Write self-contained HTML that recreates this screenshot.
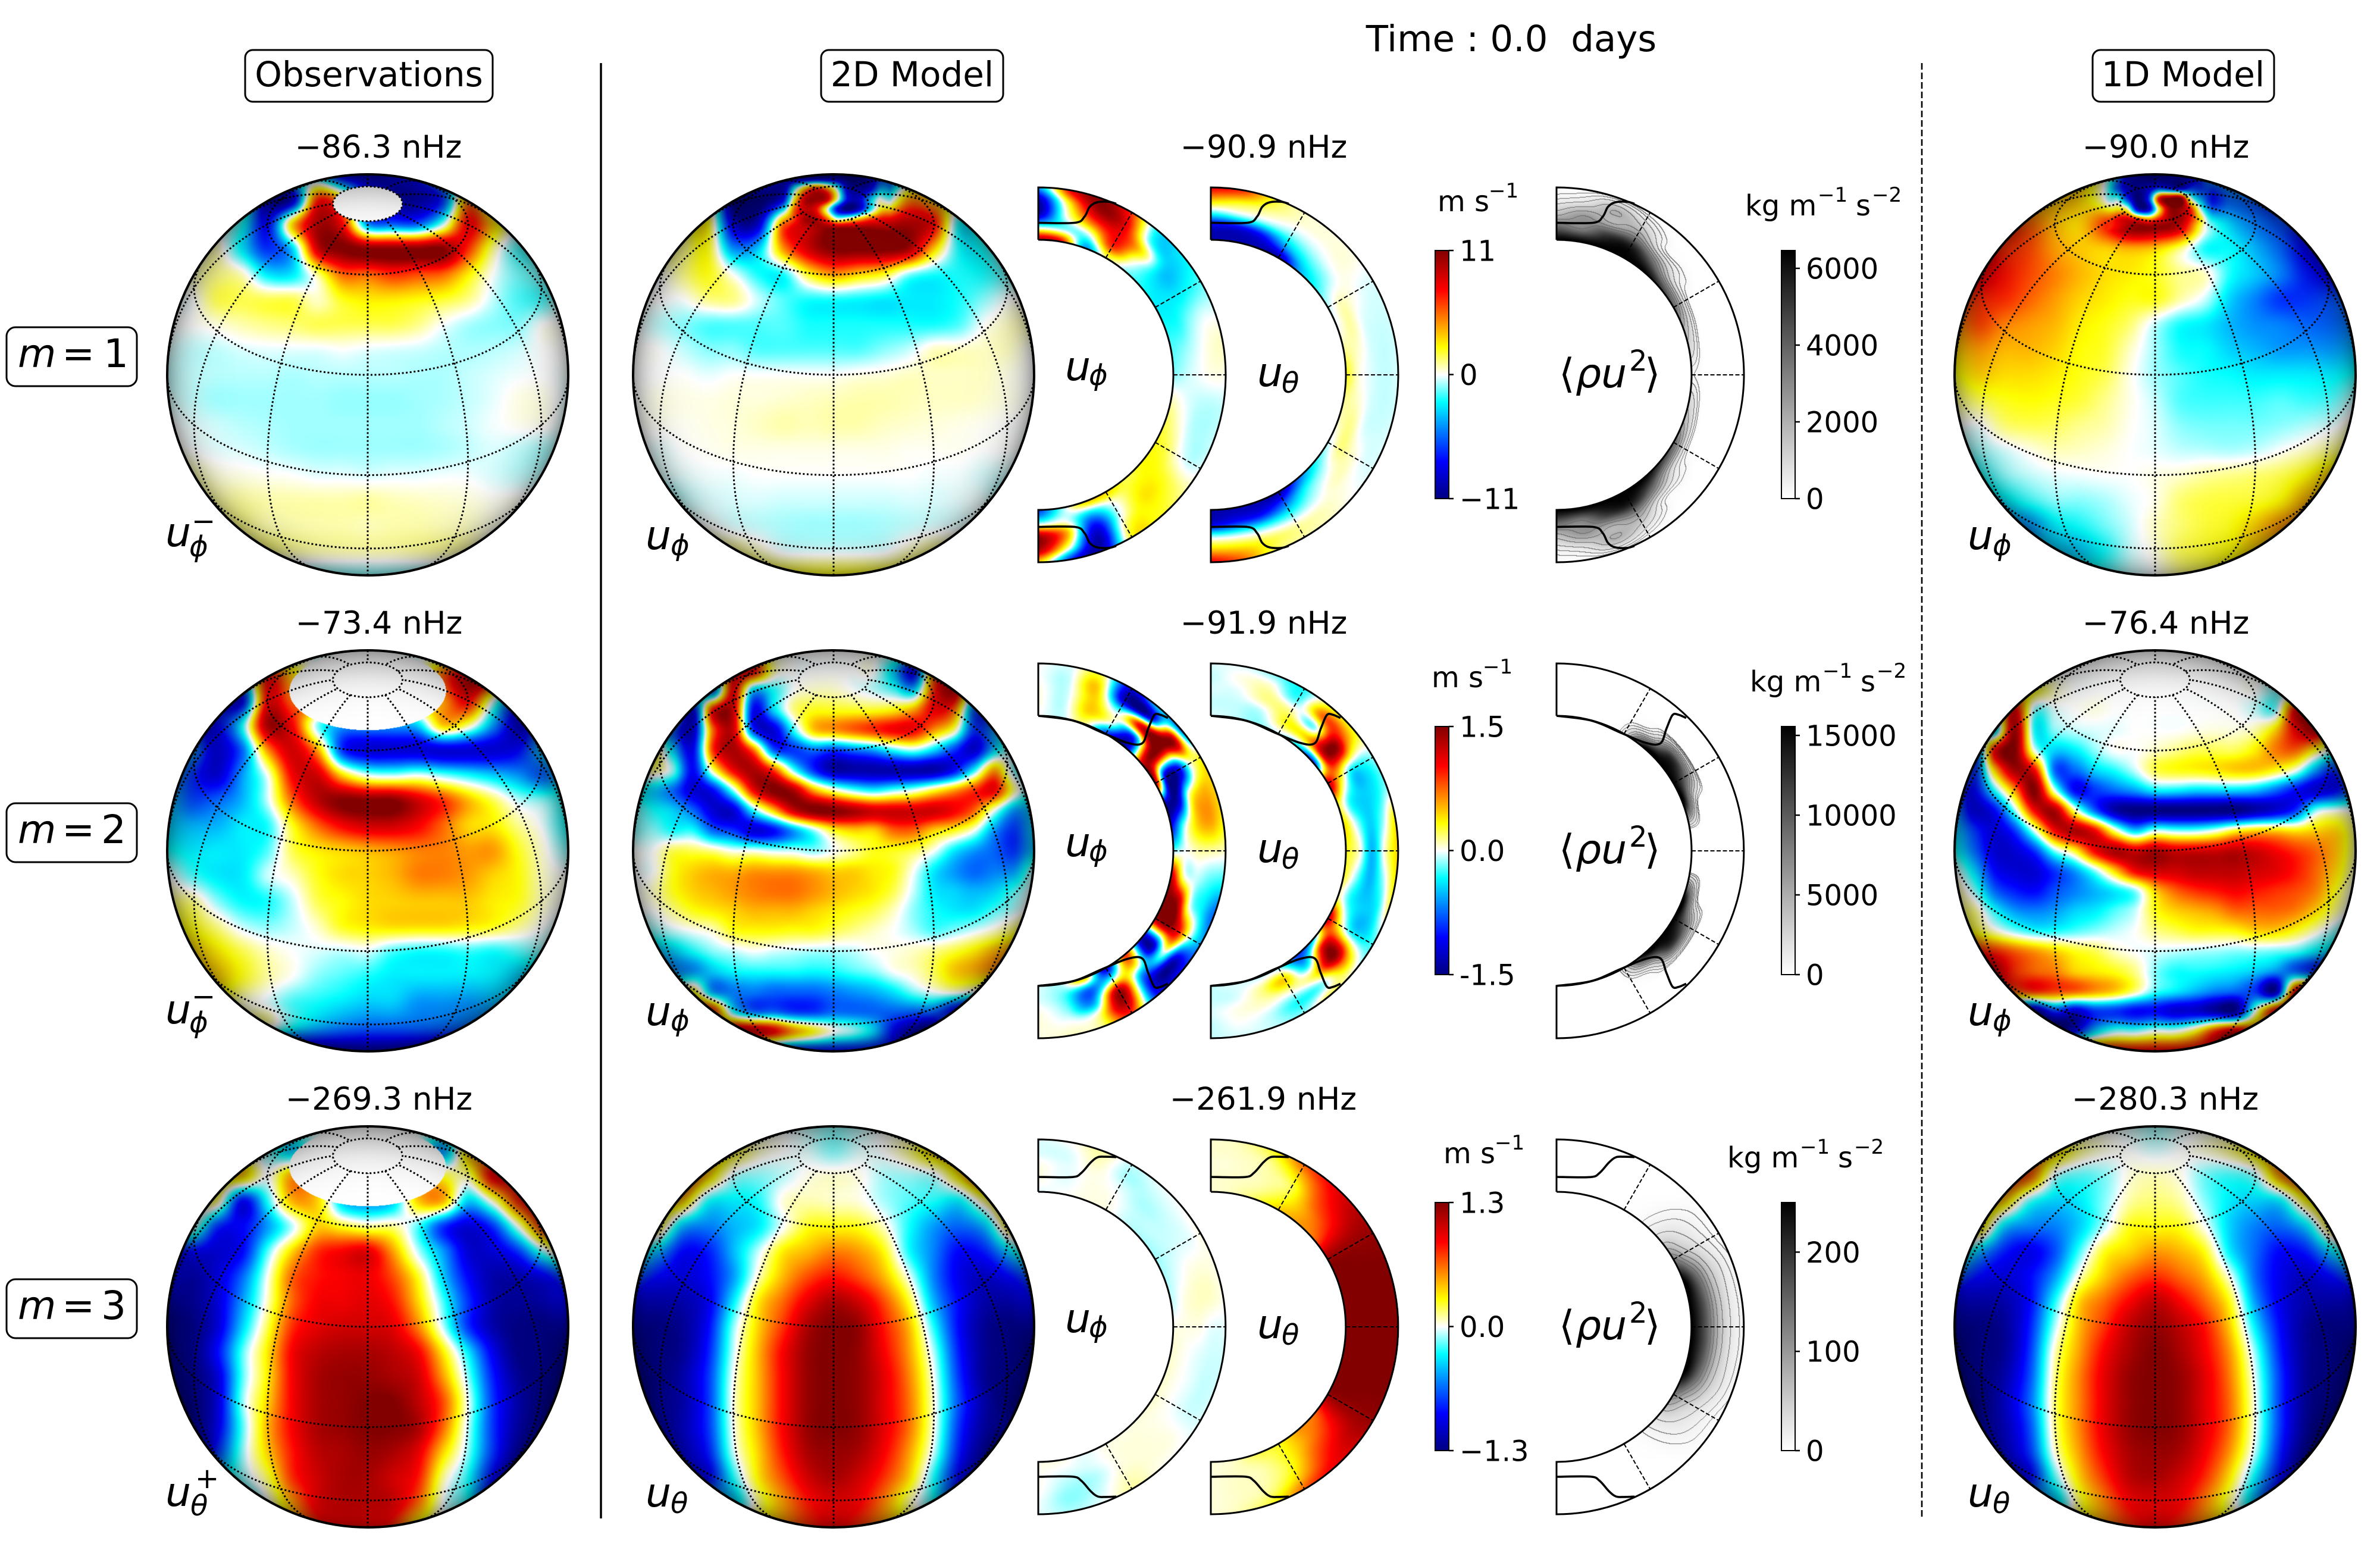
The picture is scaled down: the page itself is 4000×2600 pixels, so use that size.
<!DOCTYPE html>
<html lang="en">
<head>
<meta charset="utf-8">
<title>Inertial modes: observations, 2D model and 1D model</title>
<style>
html,body{margin:0;padding:0;background:#fff;width:4000px;height:2600px;overflow:hidden}
#stage{position:relative;width:4000px;height:2600px}
canvas{position:absolute;display:block}
svg{position:absolute;left:0;top:0}
text{font-family:"DejaVu Sans","Liberation Sans",sans-serif;fill:#000}
.head{font-size:58px;text-anchor:middle}
.freq{font-size:53px;text-anchor:middle}
.math{font-size:68px;font-style:italic}
.sub{font-size:48px;font-style:italic}
.sup{font-size:48px}
.unit{font-size:48px}
.unitsup{font-size:34px}
.tick{font-size:48px}
.box{fill:#fff;stroke:#000;stroke-width:3}
</style>
</head>
<body>
<div id="stage">
<svg id="overlay" width="4000" height="2600" viewBox="0 0 4000 2600" xmlns="http://www.w3.org/2000/svg">
<defs id="defs"></defs>
<g id="marks"></g>

<text x="2540" y="86" style="font-size:61px;text-anchor:middle">Time : 0.0&#160;&#160;days</text>

<rect class="box" x="412" y="84" width="416" height="87" rx="13"/>
<text class="head" x="620" y="145">Observations</text>
<rect class="box" x="1380" y="84" width="306" height="87" rx="13"/>
<text class="head" x="1533" y="145">2D Model</text>
<rect class="box" x="3517" y="84" width="305" height="87" rx="13"/>
<text class="head" x="3669" y="145">1D Model</text>

<line x1="1010" y1="106" x2="1010" y2="2552" stroke="#000" stroke-width="3.5"/>
<line x1="3230" y1="106" x2="3230" y2="2552" stroke="#000" stroke-width="2.6" stroke-dasharray="11 5"/>

<g><rect class="box" x="11" y="550" width="219" height="99" rx="15"/><text class="math" style="font-size:66px" x="30" y="617">m</text><text style="font-size:66px" x="104" y="617">=</text><text style="font-size:66px" x="174" y="617">1</text></g>
<g><rect class="box" x="11" y="1350" width="219" height="99" rx="15"/><text class="math" style="font-size:66px" x="30" y="1417">m</text><text style="font-size:66px" x="104" y="1417">=</text><text style="font-size:66px" x="170" y="1417">2</text></g>
<g><rect class="box" x="11" y="2150" width="219" height="99" rx="15"/><text class="math" style="font-size:66px" x="30" y="2217">m</text><text style="font-size:66px" x="104" y="2217">=</text><text style="font-size:66px" x="170" y="2217">3</text></g>

<text class="freq" x="636" y="265">−86.3 nHz</text>
<text class="freq" x="637" y="1065">−73.4 nHz</text>
<text class="freq" x="637" y="1865">−269.3 nHz</text>
<text class="freq" x="2124" y="265">−90.9 nHz</text>
<text class="freq" x="2124" y="1065">−91.9 nHz</text>
<text class="freq" x="2123" y="1865">−261.9 nHz</text>
<text class="freq" x="3640" y="265">−90.0 nHz</text>
<text class="freq" x="3640" y="1065">−76.4 nHz</text>
<text class="freq" x="3639" y="1865">−280.3 nHz</text>

<g><text class="math" x="278" y="918">u</text><text class="sub" x="318" y="935">ϕ</text><text class="sup" x="322" y="892">−</text></g>
<g><text class="math" x="278" y="1720">u</text><text class="sub" x="318" y="1735">ϕ</text><text class="sup" x="322" y="1691">−</text></g>
<g><text class="math" x="278" y="2531">u</text><text class="sub" x="320" y="2547">θ</text><text class="sup" x="328" y="2501">+</text></g>
<g><text class="math" x="1085" y="923">u</text><text class="sub" x="1127" y="933">ϕ</text></g>
<g><text class="math" x="1085" y="1723">u</text><text class="sub" x="1127" y="1732">ϕ</text></g>
<g><text class="math" x="1085" y="2532">u</text><text class="sub" x="1127" y="2543">θ</text></g>
<g><text class="math" x="3307" y="923">u</text><text class="sub" x="3349" y="933">ϕ</text></g>
<g><text class="math" x="3307" y="1723">u</text><text class="sub" x="3349" y="1732">ϕ</text></g>
<g><text class="math" x="3307" y="2532">u</text><text class="sub" x="3349" y="2543">θ</text></g>

<g><text class="math" x="1790" y="639">u</text><text class="sub" x="1830" y="647">ϕ</text></g>
<g><text class="math" x="2113" y="649">u</text><text class="sub" x="2154" y="660">θ</text></g>
<g><text class="math" style="font-style:normal" x="2620" y="651">⟨</text><text class="math" x="2648" y="651">ρu</text><text class="sup" x="2738" y="623">2</text><text class="math" style="font-style:normal" x="2764" y="651">⟩</text></g>
<g><text class="math" x="1790" y="1439">u</text><text class="sub" x="1830" y="1447">ϕ</text></g>
<g><text class="math" x="2113" y="1449">u</text><text class="sub" x="2154" y="1460">θ</text></g>
<g><text class="math" style="font-style:normal" x="2620" y="1451">⟨</text><text class="math" x="2648" y="1451">ρu</text><text class="sup" x="2738" y="1423">2</text><text class="math" style="font-style:normal" x="2764" y="1451">⟩</text></g>
<g><text class="math" x="1790" y="2239">u</text><text class="sub" x="1830" y="2247">ϕ</text></g>
<g><text class="math" x="2113" y="2249">u</text><text class="sub" x="2154" y="2260">θ</text></g>
<g><text class="math" style="font-style:normal" x="2620" y="2251">⟨</text><text class="math" x="2648" y="2251">ρu</text><text class="sup" x="2738" y="2223">2</text><text class="math" style="font-style:normal" x="2764" y="2251">⟩</text></g>

<g><text class="unit" x="2416" y="355">m s</text><text class="unitsup" x="2502" y="332">−1</text></g>
<g><text class="unit" x="2406" y="1155">m s</text><text class="unitsup" x="2492" y="1132">−1</text></g>
<g><text class="unit" x="2426" y="1955">m s</text><text class="unitsup" x="2512" y="1932">−1</text></g>
<g><text class="unit" x="2933" y="362">kg m</text><text class="unitsup" x="3055" y="339">−1</text><text class="unit" x="3119" y="362">s</text><text class="unitsup" x="3146" y="339">−2</text></g>
<g><text class="unit" x="2941" y="1162">kg m</text><text class="unitsup" x="3063" y="1139">−1</text><text class="unit" x="3127" y="1162">s</text><text class="unitsup" x="3154" y="1139">−2</text></g>
<g><text class="unit" x="2903" y="1962">kg m</text><text class="unitsup" x="3025" y="1939">−1</text><text class="unit" x="3089" y="1962">s</text><text class="unitsup" x="3116" y="1939">−2</text></g>
</svg>
</div>

<script>
/* ---------- categories and axis ticks ---------- */
const gridLatitudes = [80, 60, 30, 0, -30, -60, -80];
const gridLongitudes = [-180, -150, -120, -90, -60, -30, 0, 30, 60, 90, 120, 150];
const panelDashedLatitudes = [60, 30, 0, -30, -60];
const divergingStops = [-10, -7, -4.5, -2.2, 0, 2.2, 4.5, 6.8, 10];
const divergingRed = [0, 0, 0, 0, 255, 255, 255, 255, 130];
const divergingGreen = [0, 0, 128, 255, 255, 255, 128, 0, 0];
const divergingBlue = [130, 255, 255, 255, 255, 0, 0, 0, 0];
const rhoContourLevels = [0.25, 0.5, 1, 2, 3, 4, 5, 6, 7, 8, 9];
/* observations have no data above these latitudes */
const obsMaskLatitudes = [80, 67, 67];

const velocityLimits = [11, 1.5, 1.3];
const velocityTickValues = [[11, 0, -11], [1.5, 0, -1.5], [1.3, 0, -1.3]];
const velocityTickLabels = [["11", "0", "−11"], ["1.5", "0.0", "-1.5"], ["1.3", "0.0", "−1.3"]];
const stressLimits = [6465, 15560, 250];
const stressTickValues = [[6000, 4000, 2000, 0], [15000, 10000, 5000, 0], [200, 100, 0]];

/* latitude (deg) and radius (panel units, 227 = inner, 315 = outer) of the bold curve */
const curveLatM1 = [90, 76.4, 73.7, 73, 71.3, 67.9, 65.5];
const curveRadM1 = [255.6, 263, 277, 295, 306, 314, 316];
const curveLatM2 = [90, 75, 61.5, 50.7, 46, 48, 49.5, 48.2, 45.7];
const curveRadM2 = [227, 226.6, 226, 235, 251, 276, 300, 307, 312];
const curveLatM3 = [90, 77.3, 74.4, 72.3, 70.7, 68.4, 65.3];
const curveRadM3 = [252, 258, 268.5, 290, 302, 307.5, 314];

/* ---------- globe fields (rows top to bottom, columns left to right, scale -10..10) ---------- */
const globeObsM1 = [
[0,0,0,0,0,0,-3,-8,-9,-8,-6,-2,0,0,0,0,0],
[0,0,0,0,-8,-8,6,3,-6,-9,-9,-6,4,0,0,0,0],
[0,0,0,-2,-7,3,9,7,-4,-5,-5,-.5,7,3,0,0,0],
[0,0,.5,-2.5,-6,-3,8,10,10,10,10,10,6,1,-1.5,-1,0],
[0,.5,1,.5,-2.5,-2.5,1,5,5,6,5.5,5,2.5,0,-1.2,-1,-.5],
[0,0,1.5,1.5,1.5,1.5,.5,2,2.5,2.5,2.2,1.8,1,-.5,-1.5,-1.5,0],
[0,0,.3,.7,1,1.2,1.5,1.5,1.5,1.5,1,0,-.7,-1,-1,0,0],
[-.3,-.5,-.5,-.3,-.2,-.2,-.2,0,-.2,-.3,-.4,-.6,-.7,-.6,-.4,0,0],
[-.5,-.5,-.6,-.6,-.6,-.7,-.6,-.6,-.6,-.6,-.7,-.7,-.5,-.3,-.1,0,-.1],
[-.3,-.5,-.8,-.8,-.8,-.8,-.8,-.9,-.9,-.9,-.8,-.7,-.5,-.2,.2,.2,-.2],
[0,-.2,-.4,-.6,-.7,-.8,-.8,-.8,-.8,-.8,-.8,-.6,-.4,-.1,.1,.1,-.3],
[.3,0,-.2,-.3,-.5,-.7,-.8,-.8,-.8,-.8,-.8,-.7,-.5,-.3,-.5,-.7,-.5],
[1,.7,.3,.2,.1,0,-.2,-.2,-.3,-.2,-.2,-.1,-.1,-.3,-.5,-.5,0],
[1,1,.8,.8,.7,.7,.7,.7,.8,.6,.5,.4,.3,.1,.1,0,0],
[1,1,1,1,.7,.7,.7,.7,.6,.7,.7,.6,.5,.2,0,0,0],
[1,1,1,1,1,.8,.7,.7,.7,.7,.8,.8,.6,0,0,0,0],
[0,0,0,0,-1,-1,-1,-1,-1,-1,-1,-1,-1,0,0,0,0]];

const globeObsM2 = [
[0,0,0,0,0,0,0,0,0,0,0,0,0,0,0,0,0],
[0,0,0,-2,6,3,0,0,0,0,0,5,8,7,0,0,0],
[0,0,-5,-7,7,5,5,0,0,0,3,4,7,0,-6,-5,0],
[0,-5,-7,-2,9,7,-1,-4,-4,-4,-3,3,1,-4,-8,-4,0],
[-2,-4,-8,-5,4,8,4,-6,-8,-8,-8,-8,-8,-8,-7,-3,0],
[-3,-6,-8,-4,0,7,8,3,0,-.5,0,-1,-2,-3,-4,-5,-2],
[-3,-5.5,-5,-3.5,-.5,5,8.5,10,10,10,8,6,3.5,1.5,-.5,-1,-2],
[-3,-3.5,-3.5,-2.5,-2,2,5,7,8,8,7,5,3,2.5,1,-.2,-2],
[-2,-2.5,-2.5,-2.5,-1.5,1.5,2.5,3,3.5,4,4.5,4.5,4,4,2,.3,-1],
[0,-1.5,-2.5,-2.5,-.5,.5,2,2.8,3,3.5,4.5,4.5,4,3,2.2,.5,0],
[1,1,-1,-2.2,-2,-.5,1.5,2.2,2.8,3,3.2,3.2,3.2,2.5,2,.5,0],
[2,2,1,-.5,-1,-.5,.5,2,2.5,2.8,2.8,2.8,2.5,2,1,0,-.5],
[3,3,2.5,1.5,.5,0,-.3,-.5,-.3,-1.5,-2,-2,-1.7,-2,-1.5,-1,-1],
[3,3,3,2,.8,0,-1,-1.5,-2,-2.5,-2.5,-2.5,-2.5,-2.5,-3,-3,-3],
[2,2,2,.5,-.2,-1.5,-2,-2.5,-3,-3,-4,-4,-4,-3.5,-3,-3,-3],
[0,0,0,0,.3,-2,-3.5,-4.5,-5,-5,-5,-5,-5,-5,-5,-5,-5],
[-9,-9,-9,-9,-9,-9,-9,-9,-9,-9,-9,-9,-9,-9,-9,-9,-9]];

const globeObsM3 = [
[0,0,0,0,0,0,0,0,0,0,0,0,0,0,0,0,0],
[0,0,0,0,-1,-3,0,0,0,0,0,-4,3,3,0,0,0],
[0,0,2,3,0,4,3,0,0,0,3,2,1,7,5,0,0],
[0,1,1,-7,-2,3.5,3,-3,-4,-3,3,3.5,-3,.5,6,6,0],
[0,0,-6,-7,-4,-.5,3,2,1,1,-1.5,-6,-8,-6,0,6,6],
[-6,-7,-8,-7,-1.5,3,6,7,7.5,4,-.5,-4,-8,-8,-6,-1,2],
[-7,-9,-8,-5,0,5,6.5,7,7.2,5.5,2,-3,-7,-9,-9,-7.5,-5],
[-9,-9.5,-8,-4,.5,5,7,7.2,7.5,6.5,3,-1.5,-6,-9,-9.5,-9,-7],
[-10,-10,-8,-3,1.5,6,7.5,8,8,7.5,4.5,-.5,-6,-9,-10,-10,-9],
[-10,-10,-7,-1.5,2.5,7,8.5,9,9,8.5,7,2.5,-2.5,-7.5,-10,-10,-10],
[-10,-10,-8,-1.5,2.5,7,9,9.5,9.5,9,8,4,-1,-6.5,-9.5,-10,-10],
[-10,-10,-8,-1,3,7,9,9.5,10,10,8.5,5.5,0,-6,-9,-10,-10],
[-9,-9.5,-7.5,-1.5,3.5,7,9,9.5,10,10,9,5,-.5,-6,-9,-9.5,-9],
[-8,-9,-6,-1,3,6.5,8.5,9,9.5,9,7.5,3,-1,-6,-9,-9,-8],
[-5,-5,-3,-1,1.5,6,8,9,9,8,6.5,1,-2,-7,-9,-9,-8],
[-2,-2,-2,-2,0,4,7.5,8.5,8.5,8,5,0,-2,-7,-9,-9,-8],
[0,0,0,0,0,3,6,7,7,6,2,0,0,0,0,0,0]];

const globe2dM1 = [
[0,0,0,0,0,-3,-8,-10,-10,-10,-8,-2,1,1,0,0,0],
[0,0,0,1,-9,-10,-7,8,1,-9,-3,4,3,1,0,0,0],
[0,0,1,2,-8,-8,5,8,9.5,9,8.5,9,7,-2,-1,0,0],
[0,1,1,2,-4,-3,4,8,10,10,10,9,3,-2,-2,0,0],
[0,0,1,2,0,-2,-2,2,4,3,2,-1,-2,-2,-2,-1,0],
[0,0,0,1,1,-.5,-1.5,-2,-2,-2.2,-2.5,-2.5,-2.5,-2,-1,0,0],
[0,-.5,-1,-1.5,-1.5,-1.5,-1.5,-2,-2,-2,-2,-2,-2,-1.5,0,.5,.5],
[0,0,-.5,-1,-1,-1.5,-1.5,-1.5,-1.5,-1.5,-1,-.5,.5,.5,.5,.5,0],
[0,0,0,-.2,0,0,0,0,0,.2,.3,.5,.5,.5,.5,.2,0],
[0,.2,.2,.2,.3,.3,.4,.5,.6,.7,.7,.6,.5,.5,.4,.2,0],
[0,.1,.1,.2,.3,.5,.7,.6,.7,.7,.5,.4,.3,.2,.1,0,0],
[0,-.2,0,.1,.2,.2,.2,.2,.2,.2,.2,.1,.1,.1,0,0,-.2],
[-.3,-.3,-.2,-.1,-.1,0,0,0,0,0,0,0,-.1,-.1,-.3,-.4,-.4],
[-1,-1,-.5,-.3,-.3,-.3,-.4,-.4,-.4,-.4,-.4,-.3,-.3,-.2,-.2,-1,-1],
[0,0,0,0,-.3,-.5,-.7,-.8,-.8,-.8,-.7,-.5,-.3,-.2,0,0,0],
[1,1,1,1,1,.5,-.2,-.3,-.3,-.3,-.2,.5,1,1,1,1,1],
[2,2,2,2,2,2,2,2,2,2,2,2,2,2,2,2,2]];

/* finer polar detail of the m=1 model swirls */
const swirl2dM1 = [
[-9,-9.5,-9.5,-9.5,-9.5,-9.5,-10,-10,-9,-6,-2],
[-6,-2,3,6,4,-1,-8,-9,-8,-4,0],
[-4,2,8,9,8,1,-7,-8,-4,0,2],
[0,5,8,7,1,-7,-10,-8,-3,2,5],
[3,6,9,9,6,1,2,4,6,7,8],
[5,8,9,10,10,9,9,9,9,9,9]];
const swirl1dM1 = [
[0,-4,-8,-9,-9.5,-9.5,-9,-9,-8,-6,-5],
[-1,-5,-8,-9,-8,-6,-7,-8,-6,-6,-5],
[.5,-1,-6,-10,-6,7,10,10,0,-4,-5],
[3,2.5,1,-8,-8,2,9,9,6,-1,-3],
[5,7,8,7,5,7,9,9,6,2,-2],
[4,5,8,10,10,10,9,7,4,.5,-2]];

const globe2dM2 = [
[0,0,0,0,0,0,0,0,0,0,0,0,0,0,0,0,0,0,0,0,0],
[0,0,0,0,0,6,7,1,0,0,0,0,0,-3,-7,4,5,0,0,0,0],
[0,0,0,0,-5,7,-3,-2,0,.5,.5,0,-.5,-1.5,-3,6,8,0,0,0,0],
[0,0,0,-7,7,8,-7,-3,1,2,2,2,2,2.5,4,7,5,-5,-5,0,0],
[0,0,-5,-8,5,8,-6,-8,-2,3,4,5,6,7,7,4,1,-6,-4,0,0],
[0,2,-3,-7,6,9,5,-5,-6,-5,-6,-5,-4,-2,-1,-3,-6,-8,-3,0,0],
[0,1,-1,-7,1,7,9,6,-1,-6,-9,-9,-9,-9,-9,-9,-7,-2,4,-1,0],
[-2,-3,-5,-8,-7,-1,7,10,9,4,1,-1,-2,-1,0,2,4,6,7,1,-2],
[-1,-2,-3,-5,-8,-8,-2,3,8,10,10,9,8,8,8,8,7,5,0,-4,-3],
[-1,-1,-2,-2,-5,-6,-8,-7,-4,-1,2,3,3,5,5,3,2,0,-4,-6,-3],
[0,0,1.5,1.5,1,0,0,-.5,-.5,-1,0,1,2,2,1.5,0,-2.5,-4,-5,-6,-3],
[0,0,2,3,3.5,3.5,4,4,4,3.5,3,3,2.5,2,0,-2.5,-4,-5,-4.5,-4,-.5],
[0,.5,2,3,3.5,4,4.5,4.8,4.8,4.2,3.5,3,2.5,1.5,-.5,-2.5,-3,-3.5,-3,-1.5,0],
[0,0,1,2,2.5,3,3.5,3.5,3.5,3,2.5,2,1.5,.5,-1,-2,-2.5,-2.5,-1.5,-.5,.5],
[-1,-1,-.5,0,.5,2,2.2,2.2,2,2,1.5,1,.5,0,-.7,-1.5,-1,-.3,.5,1.5,2.5],
[-2,-3,-3,-2,-1,-.5,0,-.3,-.5,-.7,-.7,-.5,0,.2,.5,1,1.7,2.5,3.5,4,4],
[-3,-3,-4,-4,-3,-2.2,-2,-2,-2,-2.2,-2,-1.5,-1,0,.5,1.5,3,3.5,4,4,4],
[0,0,0,2,-4,-4.5,-4.5,-5,-5,-5,-4.5,-4,-3.5,-2.5,-1,0,.5,0,0,0,0],
[0,0,0,5,6,-2,-5,-5,-6,-6,-5,-5,-5,-5,-5,-5,-7,-8,0,0,0],
[0,0,0,0,0,7,8,7,4,2,0,-1,-3,-7,-9,-9,0,0,0,0,0],
[-7,-7,-7,-7,-7,-7,-7,-7,-7,-7,-7,-7,-7,-7,-7,-7,-7,-7,-7,-7,-7]];

const globe2dM3 = [
[0,0,0,0,0,0,0,-.5,-1,-.5,0,0,0,0,0,0,0],
[0,0,0,3,2,.5,0,-.3,-1,-.3,0,1,3,3,0,0,0],
[0,0,5,3,-.5,-1,-.5,.2,.4,.2,-.7,-.8,-.5,2.5,5,0,0],
[0,3,3,-2,-2.5,-2,.3,.7,.5,.3,-.7,-1.5,-2,-2.5,1,3,0],
[2,2,-3.5,-4.5,-3.5,-2.5,0,2,2.2,2,.5,-2,-4,-5,-3.5,2,2],
[-1,-3.5,-7,-6.5,-3.5,-.5,2.5,3.5,4.5,4,2.2,-2,-4.5,-7,-6.5,-3,0],
[-5,-7,-8,-7,-4,.5,3.5,5.5,6.5,5.5,3.5,0,-4.5,-7.5,-8.5,-7,-5],
[-8,-9,-9,-7.5,-2.5,2.5,5,7.5,9,8,5.5,2,-3.5,-7,-9,-9,-7],
[-9.5,-10,-9.5,-7,-1,3,6,9,10,9.5,6.5,3.5,-2,-7,-9.5,-10,-9],
[-10,-10,-9.5,-6.5,-.5,3.5,7,9.5,10,9.5,7,4,-.7,-6.5,-9.5,-10,-10],
[-10,-10,-9,-6,0,3.5,7,9.5,10,9.5,7.5,4.5,0,-6,-9.5,-10,-10],
[-10,-9.5,-9,-6,.2,3.5,7,9.5,10,9.5,7.5,4.8,.3,-5.5,-9,-10,-10],
[-9,-9,-8.5,-6,0,3.5,7,9.5,10,9.5,7.5,4.8,.2,-6,-9,-9,-9],
[-8,-8,-8,-6.5,-.5,3,6.5,9,9.5,9,7,4,-.5,-6.5,-9,-9,-8],
[-6,-6,-6,-7,-2,2.5,5.5,8,9,8,6,3,-2,-7,-8,-7,-6],
[-3,-3,-3,-3,-3,1,4,6.5,7.5,7,4.5,1,-2,-6,-6,-5,-3],
[0,0,0,0,0,2,4,6,7,6,4,2,0,0,0,0,0]];

const globe1dM1 = [
[0,0,0,0,0,3,0,-8,-10,-9,-4,-3,0,0,0,0,0],
[0,0,0,2.5,3,3,0,-9,2,9,-6,-5,-5,-5,0,0,0],
[0,0,5,5,3.5,3,6,9,10,9,0,-3,-4.5,-5.5,-5.5,0,0],
[0,6,6,5.5,4,3.2,3,3.5,3,1,-2,-2.2,-3.5,-5,-7,-6,0],
[5,7,6.5,5.5,4.5,3.5,2.8,2.5,2,1,.5,-2,-3.2,-4.5,-6.5,-7,-6],
[5,6,6,5,4,3,2.5,2,2,.7,-.5,-3,-4.5,-6,-6,-5.5,-5],
[4,5.5,4.5,4,3.5,2.5,2,1.2,-.5,-2,-2.5,-3.5,-4.2,-4.5,-5,-5,-4.5],
[3,4,3.5,3.5,3,2.2,1.8,.5,-.8,-2,-2.2,-3,-3.5,-4,-4,-4,-3.5],
[2,3,2.8,2.8,2.5,2,1.5,.2,-.8,-1.5,-2,-2.2,-2.5,-2.5,-2.5,-2.5,-2],
[1,1.5,2,2.2,2,1.7,1,.2,-.5,-1.5,-1.7,-1.7,-1.7,-1.5,-1.7,-1.5,-.5],
[0,0,1.2,1.5,1.4,1,.7,.1,-.3,-1,-1.2,-1.2,-1.2,-1,-.7,-.3,.5],
[-1,-.8,-.3,.2,.6,.5,.3,0,-.2,-.5,-.6,-.7,-.5,0,.5,1,1.5],
[-3,-2,-1,-.5,-.2,-.1,0,0,.2,.4,.8,1,1.2,1.5,2.2,3,3],
[-3,-3,-2.5,-1.7,-1,-1,-.7,-.2,.2,1.2,1.6,1.7,1.8,2.3,3.5,3,3],
[-4,-4,-4,-4,-2.5,-2,-1.2,-.4,.5,1.2,1.7,2,3,4,4,4,4],
[-3,-3,-3,-3,-3,-3,-2,-.5,.3,1.4,1.8,2.2,3,3,3,3,3],
[-2,-2,-2,-2,-2,-2,-1.5,-.5,0,1,1.5,2,2,2,2,2,2]];

const globe1dM2 = [
[0,0,0,0,0,0,0,0,0,0,0,0,0,0,0,0,0,0,0,0,0],
[0,0,0,0,0,0,0,0,0,0,0,0,0,0,0,0,0,0,0,0,0],
[0,0,0,3,2,.5,0,0,0,0,0,0,0,0,0,0,-1,-1,0,0,0],
[0,0,0,7,-1,-.3,0,.2,0,0,0,0,0,0,0,-.5,-1,7,7,7,0],
[0,0,-3,9,-2,-1,-.5,-.3,-.2,0,0,0,.2,.3,.3,.8,3,7,8,2,0],
[0,-6,7,10,0,-3,-2.5,-1,0,0,.5,1,1.5,1.5,1.5,2.5,4.5,5,2,-1,0],
[0,-6,3,9,7,-5,-5,-3,-2,-.5,1.5,2,2.2,2.5,3,3,2,0,-4,-6,0],
[-5,-7,-2,4,10,0,-7,-6,-5,-4,-2.5,-2.5,-3,-3,-3,-3.5,-5,-7,-8,-7,-4],
[-4,-8,-7,-1,7,9,1,-5,-9,-10,-10,-10,-10,-10,-10,-9,-8,-6,-1,0,0],
[-3,-6,-8,-6,0,7,9,7,1,-3,-.5,-1,-1,0,2,3,3,2.5,3,3,1],
[-2,-5,-8,-8,-6,-1,2,7,9,8,9,8,8,8,8.5,8,7,6,5,3.5,1],
[0,-3,-7,-8,-8,-6,-4,-1,3,7,8,8,8.5,8.5,8.5,8,7.5,6.5,5,3,.5],
[1,-1,-5,-6.5,-7,-5.5,-4.5,-3.5,-2.5,-1,3,5,6,6.5,7,6.5,6,5.5,4.5,2,0],
[1,1,-2,-4,-4.5,-4,-3,-2.5,-1.5,-.5,2,3,3.5,4,5,5,5,4.5,3,1,-.5],
[2,2,.5,-1,-2,-2,-1.5,-1,-.5,0,1,1.5,2,2,2.2,3,3,2,.5,-1,-2],
[5,6,6,5,4,3,2,1.5,.5,0,-.3,-.5,-.7,-.8,-1,-1,-1.2,-1.5,-2.5,-3,-3],
[7,8,8,6,5,4.5,3,2.5,2,1,-1,-2,-2,-2.2,-2.5,-3,-4,-5,-6,-6,-6],
[5,5,5,5,6,5.5,5,4,3,1,-1.5,-2.5,-3.5,-4.5,-5,-6,-9,7,7,7,5],
[0,0,0,-6,-9,-6,-8,-6,-6,-7,-7,-8,-8,-9,-9.5,0,7,7,0,0,0],
[0,0,0,0,-6,-9,-7,-3,-1,-1,0,0,2,6,8,5,0,0,0,0,0],
[7,7,7,7,7,7,7,7,7,7,7,7,7,7,7,7,7,7,7,7,7]];

const globe1dM3 = [
[0,0,0,0,0,0,0,-.3,-.8,-.3,0,0,0,0,0,0,0],
[0,0,0,4,3,1,.2,0,-.3,0,.3,1,2.5,4,0,0,0],
[0,0,5,5,-.5,-1.5,-1,.3,.6,.2,-1.2,-1.7,-.8,4,5,0,0],
[0,3,3,-1.5,-3,-2.5,-1,.8,1.2,.8,-1,-2.5,-3,-2.5,2,3,0],
[3,3,-3,-4.5,-4.5,-3,-.5,2,2.2,2,0,-3,-4.5,-5,-3,2,2],
[0,-3.5,-6.5,-7.5,-5.5,-1.5,2,3,4,3.5,2,-2.5,-5,-7,-6.5,-3,0],
[-5,-7,-8,-7,-4,.5,3.2,5,6,5,3.5,0,-5,-7.5,-8.5,-7,-5],
[-8,-9,-9,-7,-2,3,5,7,8.5,7,5,2,-4,-7.5,-9,-9,-8],
[-9.5,-10,-9.5,-6.5,-.7,3.5,6,8.5,9.5,8.5,6.5,3,-2.5,-7,-9.5,-10,-9],
[-10,-10,-9.5,-6,.5,4,7,9,10,9,7,4,-1,-6.5,-9.5,-10,-10],
[-10,-10,-9,-5.5,1,4.5,7.5,9.5,10,9.5,7.5,4.5,-.3,-6,-9.5,-10,-10],
[-10,-10,-8.5,-5,1.2,4.5,7.5,9.5,10,9.5,7.5,4.8,0,-6,-9.5,-10,-10],
[-9,-9,-8.5,-5.5,1,4.5,7.5,9.5,10,9.5,7.5,4.8,0,-6,-9.5,-10,-9],
[-8,-8,-8,-6,.3,4,7,9,9.5,9,7,4,-.7,-6.5,-9.5,-9.5,-8],
[-7,-7,-7,-7,-1.5,3,6,8.5,9,8,6,2.5,-2.5,-7,-9,-8,-7],
[-3,-3,-3,-3,-3,1.5,4.5,7,7.5,7,4.5,1,-3.5,-7,-7,-5,-3],
[0,0,0,0,0,2,4,6,7,6,4,2,0,0,0,0,0]];

/* ---------- meridional panel fields (rows 90N to 90S every 10 deg, columns inner to outer radius) ---------- */
const panelUphiM1 = [
[9,-1,-9,-9,-4],[7,-1,0,2,7],[-4,-.5,5,9,10],[1,6,7,7.5,6],[-1,.5,2.5,-1.5,-2.5],
[-2,-2.5,-3,-3,-2.5],[-2.5,-2.5,-2.5,-2,-1.5],[-2,-2,-1,-.3,-.2],[-1.5,-1,-.3,.3,.5],[-1,-.5,-.1,.2,.2],
[.5,-.1,-.5,-.6,-.5],[1.5,.5,-.5,-.7,-.5],[2,1.5,.2,-.5,-.3],[2.2,2.2,2,1.5,1],[1.5,2,2.5,2.2,2],
[3,0,-.5,1,2],[3,-3,-7,-9,-9],[-1,0,4,1,-6],[-6,-1,9,9,3]];
const panelUthetaM1 = [
[-9,-8,-2,3,7],[-9,-8,-1,2,6],[-9,-7,-1,1,2],[-9,-4,-1,.3,.5],[-4,-2,-.5,.2,.3],
[-2,-1,0,.3,.2],[-.5,.5,.2,-.2,-.3],[0,.8,-.2,-.4,-.4],[1,.5,-.3,-.5,-.4],[2,.3,-.3,-.5,-.3],
[1,.5,-.3,-.5,-.4],[.5,1,-.2,-.4,-.3],[-.5,1,.5,-.2,-.3],[-2,-.5,.5,.2,0],[-5,-2,-.5,.5,.5],
[-9,-5,-1.5,.8,.8],[-9,-7,-1.5,1.5,1.5],[-9,-7,-1,2.5,5],[-9,-8,-1,3,7]];
const panelRhoM1 = [
[10,6,2.5,.6,.1],[10,5,4,1.2,.1],[10,8,3,3,.2],[10,9,4,1.5,0],[10,6,1,.2,0],
[8,2,.4,0,0],[6,.8,0,0,0],[3,.3,0,0,0],[1.5,0,0,0,0],[.3,0,0,0,0],
[1.5,0,0,0,0],[3,.3,0,0,0],[6,.8,0,0,0],[8,2,.4,0,0],[10,6,1,.2,0],
[10,9,4,1.5,0],[10,8,3,3,.2],[10,5,4,1.2,.1],[10,6,2.5,.6,.1]];

const panelUphiM2 = [
[0,.2,.2,0,0],[-.5,-.5,-.5,-.5,-.3],[1,3,3,3,1.5],[-6,0,-1,-9,-8],[-9,-6,8,-8,-3],
[8,10,10,9,-5],[9,-9,-8,0,2],[-9,-9,1,3.5,3],[-7,-1,3,4,2.5],[-1,0,.8,.8,.5],
[8,.5,-.5,-1.5,-2],[10,9,0,-2.5,-5],[9,10,7,-.5,-4],[-9,-9,-1,-9,-7],[6,3,-4,-7,-7],
[-8,-1,9,9,6],[3,-5,-4,.5,1],[-.5,-1.5,-1,0,.5],[-.3,-.3,.2,.3,.2]];
const panelUthetaM2 = [
[-.3,-.5,-.3,-.5,-.3],[-.5,-.5,-.2,.2,-.2],[-1,-.5,1,.5,-1],[-.5,2,.8,-1.5,-2],[-3,3,-1,5,2],
[-6,8,10,5,2],[8,3,-2,-2,-1],[2,-2,-3,-2.5,-1],[3,-.5,-3,-1,2.5],[2,.5,-3.5,.5,3],
[2,-1,-3.5,-1,2.5],[1,-2,-3,-2.5,1],[8,2,-2,-2.5,-1.5],[-2,8,10,4,0],[-6,-3,2,-1,1.5],
[-1,3,.5,-2,-1],[-.5,1,.5,-.5,-.5],[-.3,-.3,.2,0,-.3],[-.5,-.5,-.3,-.5,-.5]];
const panelRhoM2 = [
[0,0,0,0,0],[0,0,0,0,0],[0,0,0,0,0],[1,.2,0,0,0],[10,2,.1,0,0],
[10,8,.3,0,0],[10,6,.1,0,0],[10,1,0,0,0],[.5,0,0,0,0],[0,0,0,0,0],
[.5,0,0,0,0],[10,1,0,0,0],[10,6,.1,0,0],[10,8,.3,0,0],[10,2,.1,0,0],
[1,.2,0,0,0],[0,0,0,0,0],[0,0,0,0,0],[0,0,0,0,0]];

const panelUphiM3 = [
[-.2,.2,.2,-.3,-.3],[0,-.2,-.2,-.3,0],[.2,.2,.2,.5,.8],[.2,.1,-.2,-.7,-.5],[-.5,-.5,-.7,-.5,-.2],
[-.7,-.5,-.5,-.3,0],[-.8,-.5,-.3,-.2,.2],[-.7,-.2,.2,.3,.2],[-.5,.2,.5,.5,.2],[.2,.2,.2,-.2,-.2],
[.4,.1,-.2,-.4,-.4],[.4,.1,-.2,-.5,-.4],[.4,.1,-.2,-.4,-.3],[.3,.2,.2,.2,0],[.2,.3,.3,.3,.2],
[.2,.2,.2,.5,.8],[-.2,-.3,-.7,-.5,-.2],[.2,-.2,-.7,-1,-.7],[.2,.1,.1,-.1,-.2]];
const panelUthetaM3 = [
[.4,.4,.3,.4,.4],[.6,.5,.4,.5,.7],[1.5,.8,.7,1,2],[3,2,1.5,3,5],[4,4,5,6,7],
[5,6,7,8,8.5],[9.5,9.5,9.5,9.5,9.5],[10,10,10,10,10],[10,10,10,10,10],[10,10,10,10,10],
[10,10,10,10,10],[10,10,10,10,10],[9.5,9.5,9.5,9.5,9.5],[5,6,7,8,8],[4,4,5,6,7],
[2,2,2,3,5],[1.5,.8,.7,1,2],[.5,.5,.5,.5,.7],[.3,.3,.3,.3,.3]];
const panelRhoM3 = [
[0,0,0,0,0],[0,0,0,0,0],[0,0,0,0,0],[0,0,0,0,0],[.3,.2,.1,0,0],
[1.5,1,.6,.3,.1],[5,2.5,1.2,.5,.1],[10,6,2.5,1,.3],[10,7,3,1,.4],[10,7,3,1,.4],
[10,7,3,1,.4],[10,6,2.5,1,.3],[5,2.5,1.2,.5,.1],[1.5,1,.6,.3,.1],[.3,.2,.1,0,0],
[0,0,0,0,0],[0,0,0,0,0],[0,0,0,0,0],[0,0,0,0,0]];

/* ---------- layout constants ---------- */
const R = 337, TILT = 30 * Math.PI / 180;
const RI = 227, RO = 315;
const rowY = [630, 1430, 2230];
const globeX = [618, 1401, 3622];
const panelX = [1745, 2035, 2616];
const SVGNS = 'http://www.w3.org/2000/svg';
const stage = document.getElementById('stage');
const marks = document.getElementById('marks');

/* ---------- colormap ---------- */
const LUT = new Uint8ClampedArray(3 * 2001);
(function () {
  for (let k = 0; k <= 2000; k++) {
    const v = -10 + k / 100;
    let s = 0;
    while (s < divergingStops.length - 2 && v > divergingStops[s + 1]) s++;
    const t = (v - divergingStops[s]) / (divergingStops[s + 1] - divergingStops[s]);
    LUT[3 * k] = divergingRed[s] + t * (divergingRed[s + 1] - divergingRed[s]);
    LUT[3 * k + 1] = divergingGreen[s] + t * (divergingGreen[s + 1] - divergingGreen[s]);
    LUT[3 * k + 2] = divergingBlue[s] + t * (divergingBlue[s + 1] - divergingBlue[s]);
  }
})();

function cr(a, b, c, d, t) {
  return b + 0.5 * t * (c - a + t * (2 * a - 5 * b + 4 * c - d + t * (3 * (b - c) + d - a)));
}
function sampleGrid(g, v, u) {
  const nr = g.length, nc = g[0].length;
  v = Math.max(0, Math.min(nr - 1, v));
  u = Math.max(0, Math.min(nc - 1, u));
  const i = Math.min(nr - 2, Math.floor(v)), j = Math.min(nc - 2, Math.floor(u));
  const ty = v - i, tx = u - j;
  const rowVal = [];
  for (let a = -1; a <= 2; a++) {
    const r = g[Math.max(0, Math.min(nr - 1, i + a))];
    rowVal.push(cr(r[Math.max(0, j - 1)], r[j], r[j + 1], r[Math.min(nc - 1, j + 2)], tx));
  }
  return cr(rowVal[0], rowVal[1], rowVal[2], rowVal[3], ty);
}
function makeCanvas(x, y, w, h, name) {
  const el = document.createElement('canvas');
  
  
  el.width = w; el.height = h;
  el.style.left = x + 'px';
  el.style.top = y + 'px';
  stage.insertBefore(el, stage.firstChild);
  return el;
}

/* ---------- globes ---------- */
function drawGlobe(cx, cy, grid, name, maskLat, inset) {
  const size = 2 * R + 2;
  const el = makeCanvas(cx - R - 1, cy - R - 1, size, size, name);
  const ctx = el.getContext('2d');
  const img = ctx.createImageData(size, size);
  const n = grid.length - 1, m = grid[0].length - 1;
  const sinMask = maskLat === null ? 2 : Math.sin(maskLat * Math.PI / 180);
  for (let py = 0; py < size; py++) {
    const ny = (py - R - 1 + .5) / R;
    for (let px = 0; px < size; px++) {
      const nx = (px - R - 1 + .5) / R;
      const r2 = nx * nx + ny * ny;
      if (r2 > 1.004) continue;
      let val = sampleGrid(grid, (ny + 1) / 2 * n, (nx + 1) / 2 * m);
      if (inset) {
        const iu = (nx - inset.x0) / (inset.x1 - inset.x0);
        const iv = (ny - inset.y0) / (inset.y1 - inset.y0);
        if (iu > 0 && iu < 1 && iv < 1) {
          const w = Math.min(1, Math.min(iu, 1 - iu) * 10, (1 - iv) * 5);
          const s = sampleGrid(inset.grid, iv * (inset.grid.length - 1), iu * (inset.grid[0].length - 1));
          val = val * (1 - w) + s * w;
        }
      }
      if (maskLat !== null) {
        const z = Math.sqrt(Math.max(0, 1 - r2));
        const sinLat = -ny * Math.cos(TILT) + z * Math.sin(TILT);
        if (sinLat > sinMask) val = 0;
      }
      const k = Math.max(0, Math.min(2000, Math.round((val + 10) * 100)));
      const r = Math.sqrt(r2);
      const exp = 13 - (ny < 0 ? 5 * ny * ny : 0);
      const f = 1 - 0.42 * Math.pow(Math.min(r, 1), exp);
      const o = 4 * (py * size + px);
      img.data[o] = LUT[3 * k] * f;
      img.data[o + 1] = LUT[3 * k + 1] * f;
      img.data[o + 2] = LUT[3 * k + 2] * f;
      img.data[o + 3] = 255;
    }
  }
  ctx.putImageData(img, 0, 0);
}
function project(cx, cy, latDeg, lonDeg) {
  const la = latDeg * Math.PI / 180, lo = lonDeg * Math.PI / 180;
  const x = R * Math.cos(la) * Math.sin(lo);
  const y = R * (Math.sin(la) * Math.cos(TILT) - Math.cos(la) * Math.sin(TILT) * Math.cos(lo));
  const z = Math.sin(la) * Math.sin(TILT) + Math.cos(la) * Math.cos(TILT) * Math.cos(lo);
  return [cx + x, cy - y, z];
}
function visiblePath(points) {
  let d = '', pen = false;
  for (const p of points) {
    if (p[2] >= 0) {
      d += (pen ? 'L' : 'M') + p[0].toFixed(1) + ' ' + p[1].toFixed(1);
      pen = true;
    } else pen = false;
  }
  return d;
}
function drawGlobeGrid(cx, cy) {
  const g = document.createElementNS(SVGNS, 'g');
  
  
  g.setAttribute('fill', 'none');
  g.setAttribute('stroke', '#000');
  g.setAttribute('stroke-width', '3');
  g.setAttribute('stroke-dasharray', '3 3.6');
  let d = '';
  for (const lat of gridLatitudes) {
    const pts = [];
    for (let lon = -180; lon <= 180; lon += 1) pts.push(project(cx, cy, lat, lon));
    d += visiblePath(pts);
  }
  for (const lon of gridLongitudes) {
    const pts = [];
    for (let lat = -80; lat <= 80; lat += 1) pts.push(project(cx, cy, lat, lon));
    d += visiblePath(pts);
  }
  const path = document.createElementNS(SVGNS, 'path');
  path.setAttribute('d', d);
  
  
  g.appendChild(path);
  marks.appendChild(g);
  const limb = document.createElementNS(SVGNS, 'circle');
  limb.setAttribute('cx', cx);
  limb.setAttribute('cy', cy);
  limb.setAttribute('r', R);
  limb.setAttribute('fill', 'none');
  limb.setAttribute('stroke', '#000');
  limb.setAttribute('stroke-width', '4');
  
  
  marks.appendChild(limb);
}

/* ---------- meridional panels ---------- */
function panelXY(cx, cy, latDeg, rad) {
  const la = latDeg * Math.PI / 180;
  return [cx + rad * Math.cos(la), cy - rad * Math.sin(la)];
}
function drawPanel(cx, cy, grid, isRho, name) {
  const w = RO + 4, h = 2 * RO + 4;
  const el = makeCanvas(cx, cy - RO - 2, w, h, name);
  const ctx = el.getContext('2d');
  const img = ctx.createImageData(w, h);
  const vals = new Float32Array(w * h).fill(-1);
  const nr = grid.length - 1, nc = grid[0].length - 1;
  for (let py = 0; py < h; py++) {
    const dy = RO + 2 - py - .5;
    for (let px = 0; px < w; px++) {
      const dx = px + .5;
      const r = Math.hypot(dx, dy);
      if (r < RI - 1 || r > RO + 1) continue;
      const lat = Math.atan2(dy, dx) * 180 / Math.PI;
      const val = sampleGrid(grid, (90 - lat) / 180 * nr, (r - RI) / (RO - RI) * nc);
      const o = 4 * (py * w + px);
      vals[py * w + px] = Math.max(0, val);
      if (isRho) {
        const gray = 255 * (1 - Math.max(0, Math.min(10, val)) / 10);
        img.data[o] = img.data[o + 1] = img.data[o + 2] = gray;
      } else {
        const k = Math.max(0, Math.min(2000, Math.round((val + 10) * 100)));
        img.data[o] = LUT[3 * k];
        img.data[o + 1] = LUT[3 * k + 1];
        img.data[o + 2] = LUT[3 * k + 2];
      }
      img.data[o + 3] = 255;
    }
  }
  if (isRho) {
    const lev = v => { let n = 0; for (const l of rhoContourLevels) if (v >= l) n++; return n; };
    for (let py = 0; py < h - 1; py++) for (let px = 0; px < w - 1; px++) {
      const a = vals[py * w + px], b = vals[py * w + px + 1], c = vals[(py + 1) * w + px];
      if (a < 0 || b < 0 || c < 0) continue;
      if (lev(a) !== lev(b) || lev(a) !== lev(c)) {
        const o = 4 * (py * w + px);
        img.data[o] = Math.min(img.data[o], 105);
        img.data[o + 1] = Math.min(img.data[o + 1], 105);
        img.data[o + 2] = Math.min(img.data[o + 2], 105);
      }
    }
  }
  ctx.putImageData(img, 0, 0);
}
function smoothPath(pts) {
  let d = 'M' + pts[0][0].toFixed(1) + ' ' + pts[0][1].toFixed(1);
  for (let i = 0; i < pts.length - 1; i++) {
    const p0 = pts[Math.max(0, i - 1)], p1 = pts[i], p2 = pts[i + 1], p3 = pts[Math.min(pts.length - 1, i + 2)];
    const c1 = [p1[0] + (p2[0] - p0[0]) / 6, p1[1] + (p2[1] - p0[1]) / 6];
    const c2 = [p2[0] - (p3[0] - p1[0]) / 6, p2[1] - (p3[1] - p1[1]) / 6];
    d += 'C' + c1[0].toFixed(1) + ' ' + c1[1].toFixed(1) + ' ' + c2[0].toFixed(1) + ' ' + c2[1].toFixed(1) + ' ' + p2[0].toFixed(1) + ' ' + p2[1].toFixed(1);
  }
  return d;
}
function addPath(d, width, dash, name) {
  const p = document.createElementNS(SVGNS, 'path');
  p.setAttribute('d', d);
  p.setAttribute('fill', 'none');
  p.setAttribute('stroke', '#000');
  p.setAttribute('stroke-width', width);
  if (dash) p.setAttribute('stroke-dasharray', dash);
  
  
  marks.appendChild(p);
}
function drawPanelFrame(cx, cy, curveLat, curveRad) {
  let dash = '';
  for (const lat of panelDashedLatitudes) {
    const a = panelXY(cx, cy, lat, RI), b = panelXY(cx, cy, lat, RO);
    dash += 'M' + a[0].toFixed(1) + ' ' + a[1].toFixed(1) + 'L' + b[0].toFixed(1) + ' ' + b[1].toFixed(1);
  }
  addPath(dash, 2, '7 3.5', 'panel-latitude-guides');
  addPath('M' + cx + ' ' + (cy - RI) + 'L' + cx + ' ' + (cy - RO) + 'A' + RO + ' ' + RO + ' 0 0 1 ' + cx + ' ' + (cy + RO) + 'L' + cx + ' ' + (cy + RI) + 'A' + RI + ' ' + RI + ' 0 0 0 ' + cx + ' ' + (cy - RI), 3, null, 'panel-outline');
  const north = curveLat.map((la, i) => panelXY(cx, cy, la, curveRad[i]));
  const south = curveLat.map((la, i) => panelXY(cx, cy, -la, curveRad[i]));
  addPath(smoothPath(north) + smoothPath(south), 3.6, null, 'panel-critical-curve');
}

/* ---------- colorbars ---------- */
function buildGradients() {
  const defs = document.getElementById('defs');
  const div = document.createElementNS(SVGNS, 'linearGradient');
  div.setAttribute('id', 'cmap-div');
  div.setAttribute('x1', '0'); div.setAttribute('y1', '1');
  div.setAttribute('x2', '0'); div.setAttribute('y2', '0');
  divergingStops.forEach((s, i) => {
    const st = document.createElementNS(SVGNS, 'stop');
    st.setAttribute('offset', ((s + 10) / 20).toFixed(4));
    st.setAttribute('stop-color', 'rgb(' + divergingRed[i] + ',' + divergingGreen[i] + ',' + divergingBlue[i] + ')');
    div.appendChild(st);
  });
  defs.appendChild(div);
  const gray = document.createElementNS(SVGNS, 'linearGradient');
  gray.setAttribute('id', 'cmap-gray');
  gray.setAttribute('x1', '0'); gray.setAttribute('y1', '1');
  gray.setAttribute('x2', '0'); gray.setAttribute('y2', '0');
  [[0, '#fff'], [1, '#000']].forEach(a => {
    const st = document.createElementNS(SVGNS, 'stop');
    st.setAttribute('offset', a[0]);
    st.setAttribute('stop-color', a[1]);
    gray.appendChild(st);
  });
  defs.appendChild(gray);
}
function drawColorbar(x, cy, grad, vmin, vmax, ticks, labels, name) {
  const top = cy - 209, h = 417, w = 23;
  const yOf = v => top + h * (vmax - v) / (vmax - vmin);
  const g = document.createElementNS(SVGNS, 'g');
  
  
  const rect = document.createElementNS(SVGNS, 'rect');
  rect.setAttribute('x', x); rect.setAttribute('y', top);
  rect.setAttribute('width', w); rect.setAttribute('height', h);
  rect.setAttribute('fill', 'url(#' + grad + ')');
  rect.setAttribute('stroke', '#000');
  rect.setAttribute('stroke-width', '2');
  g.appendChild(rect);
  ticks.forEach((t, i) => {
    const y = yOf(t);
    const tk = document.createElementNS(SVGNS, 'line');
    tk.setAttribute('x1', x + w); tk.setAttribute('x2', x + w + 8);
    tk.setAttribute('y1', y); tk.setAttribute('y2', y);
    tk.setAttribute('stroke', '#000');
    tk.setAttribute('stroke-width', '2.5');
    
    
    g.appendChild(tk);
    const tx = document.createElementNS(SVGNS, 'text');
    tx.setAttribute('class', 'tick');
    tx.setAttribute('x', x + w + 18);
    tx.setAttribute('y', y + 17.5);
    
    
    tx.textContent = labels[i];
    g.appendChild(tx);
  });
  marks.appendChild(g);
}

/* ---------- assemble ---------- */
buildGradients();
const globeGrids = [
  [globeObsM1, globe2dM1, globe1dM1],
  [globeObsM2, globe2dM2, globe1dM2],
  [globeObsM3, globe2dM3, globe1dM3]
];
const globeNames = ['obs', '2d', '1d'];
const globeInsets = [
  [null, { grid: swirl2dM1, x0: -.2477, x1: .282, y0: -.984, y1: -.719 }, { grid: swirl1dM1, x0: -.2437, x1: .286, y0: -.984, y1: -.719 }],
  [null, null, null],
  [null, null, null]
];
const panelGrids = [
  [panelUphiM1, panelUthetaM1, panelRhoM1],
  [panelUphiM2, panelUthetaM2, panelRhoM2],
  [panelUphiM3, panelUthetaM3, panelRhoM3]
];
const panelNames = ['uphi', 'utheta', 'rho'];
const curves = [[curveLatM1, curveRadM1], [curveLatM2, curveRadM2], [curveLatM3, curveRadM3]];

rowY.forEach((cy, row) => {
  globeX.forEach((cx, col) => {
    drawGlobe(cx, cy, globeGrids[row][col], 'globe-' + globeNames[col] + '-m' + (row + 1), col === 0 ? obsMaskLatitudes[row] : null, globeInsets[row][col]);
    drawGlobeGrid(cx, cy);
  });
  panelX.forEach((cx, col) => {
    drawPanel(cx, cy, panelGrids[row][col], col === 2, 'panel-' + panelNames[col] + '-m' + (row + 1));
    drawPanelFrame(cx, cy, curves[row][0], curves[row][1]);
  });
  drawColorbar(2412, cy, 'cmap-div', -velocityLimits[row], velocityLimits[row], velocityTickValues[row], velocityTickLabels[row], 'velocity-colorbar-m' + (row + 1));
  drawColorbar(2994, cy, 'cmap-gray', 0, stressLimits[row], stressTickValues[row], stressTickValues[row].map(String), 'stress-colorbar-m' + (row + 1));
});
</script>
</body>
</html>
